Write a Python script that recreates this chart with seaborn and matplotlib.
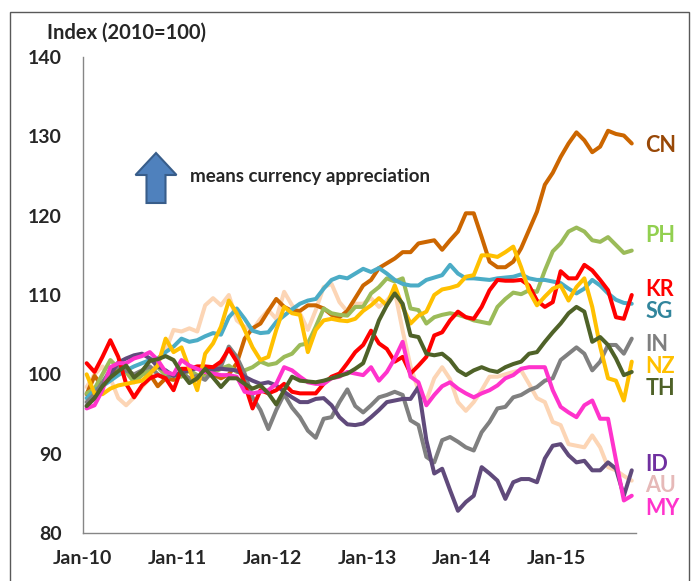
import numpy as np
import pandas as pd
import matplotlib
matplotlib.use("Agg")
import matplotlib.pyplot as plt
import seaborn as sns
from matplotlib.patches import Rectangle, FancyArrow

# monthly index values, Jan-10 .. Oct-15 (70 months)
CN = [97.5, 99.8, 98.5, 100.0, 101.2, 100.5, 99.5, 100.2, 100.0, 98.5,
      99.5, 99.3, 100.2, 100.5, 99.3, 99.8, 100.0, 99.5, 100.0, 101.4,
      104.5, 105.8, 106.4, 108.0, 109.5, 108.5, 108.0, 108.0, 108.7, 108.7,
      108.3, 107.5, 107.2, 108.0, 109.6, 111.2, 111.9, 113.4, 114.0, 114.6,
      115.4, 115.4, 116.5, 116.7, 116.9, 115.7, 116.9, 118.0, 120.3, 120.3,
      117.3, 114.2, 113.5, 113.5, 114.2, 115.9, 118.2, 120.5, 123.9, 125.4,
      127.4, 129.1, 130.5, 129.5, 128.0, 128.7, 130.7, 130.3, 130.1, 129.1]
PH = [97.6, 98.2, 100.0, 101.8, 100.8, 100.3, 99.0, 99.9, 100.5, 100.9,
      99.9, 99.8, 99.7, 100.5, 99.9, 99.7, 100.2, 100.7, 101.1, 100.3,
      100.5, 100.9, 101.6, 101.2, 101.4, 102.2, 102.6, 103.7, 103.9, 106.0,
      108.3, 107.7, 107.5, 107.4, 108.5, 108.5, 110.2, 111.0, 112.1, 111.7,
      112.1, 108.3, 108.1, 106.4, 107.2, 107.5, 107.7, 107.5, 107.2, 106.8,
      106.6, 106.4, 108.5, 109.5, 110.3, 110.1, 110.6, 110.4, 113.1, 115.5,
      116.5, 118.0, 118.5, 118.0, 116.9, 116.7, 117.3, 116.3, 115.3, 115.6]
KR = [101.4, 100.3, 102.2, 104.3, 102.2, 98.8, 97.1, 98.6, 99.5, 99.9,
      99.5, 98.0, 100.7, 100.7, 101.0, 101.0, 100.9, 101.6, 103.2, 101.6,
      98.8, 95.7, 98.0, 97.6, 98.0, 98.8, 97.8, 97.6, 97.6, 97.6,
      98.8, 99.7, 100.1, 101.4, 102.8, 103.7, 105.5, 103.9, 103.2, 101.6,
      102.2, 100.1, 101.1, 102.2, 104.9, 105.3, 106.8, 107.9, 107.2, 107.0,
      108.5, 110.6, 111.9, 111.8, 111.8, 111.9, 111.2, 109.3, 108.5, 109.1,
      113.0, 112.1, 112.1, 113.8, 113.1, 111.9, 110.6, 107.2, 107.0, 110.0]
SG = [97.0, 98.0, 98.5, 99.2, 99.9, 100.5, 101.0, 101.4, 101.8, 102.0,
      102.8, 103.5, 104.5, 104.1, 104.3, 104.8, 105.2, 105.0, 107.2, 108.3,
      107.0, 105.5, 105.2, 105.3, 106.6, 107.4, 108.2, 108.9, 109.3, 109.5,
      110.8, 111.9, 112.3, 112.1, 112.7, 113.3, 112.9, 113.4, 112.7, 111.9,
      111.4, 111.2, 111.2, 111.9, 112.2, 112.5, 113.8, 112.7, 112.1, 112.1,
      112.0, 111.9, 112.1, 112.2, 112.3, 112.6, 112.1, 111.9, 111.9, 111.7,
      111.5, 110.8, 110.2, 110.8, 111.9, 111.2, 110.2, 109.4, 109.0, 108.9]
IN = [96.5, 97.5, 99.0, 100.5, 101.0, 100.5, 100.0, 100.5, 101.0, 100.0,
      99.5, 100.0, 100.2, 99.5, 99.8, 99.3, 100.5, 101.0, 103.5, 102.2,
      100.1, 97.1, 95.5, 93.1, 95.5, 97.5, 95.8, 94.6, 92.9, 92.0,
      94.4, 94.6, 96.5, 98.1, 96.0, 95.2, 96.1, 97.1, 97.4, 97.8,
      97.4, 94.2, 93.6, 89.6, 88.9, 91.7, 92.1, 91.5, 90.8, 90.4,
      92.7, 94.0, 95.7, 95.9, 97.1, 97.4, 98.0, 98.4, 99.2, 99.5,
      101.8, 102.6, 103.4, 102.6, 100.5, 101.6, 103.7, 103.7, 102.6, 104.5]
NZ = [100.0, 97.6, 97.5, 98.2, 98.6, 98.8, 99.0, 99.2, 100.1, 101.1,
      104.5, 102.8, 103.4, 100.7, 98.0, 102.6, 103.9, 106.0, 109.3, 107.7,
      105.6, 103.4, 101.8, 102.2, 105.6, 108.5, 107.7, 107.5, 102.8, 105.6,
      106.8, 107.0, 106.8, 106.7, 107.0, 108.0, 108.7, 109.6, 108.7, 111.2,
      108.5, 106.4, 107.4, 107.9, 110.0, 110.7, 110.9, 111.2, 112.3, 112.5,
      115.0, 115.0, 114.8, 115.4, 116.1, 113.5, 110.5, 108.7, 109.8, 110.8,
      111.2, 109.3, 111.0, 112.1, 108.5, 103.5, 99.5, 99.2, 96.7, 101.6]
TH = [96.0, 97.0, 98.5, 99.6, 100.4, 101.1, 99.6, 100.4, 101.7, 101.9,
      102.3, 101.8, 100.2, 98.9, 99.5, 100.7, 99.6, 98.4, 99.5, 99.5,
      98.8, 98.2, 98.6, 97.6, 96.2, 98.0, 99.7, 99.2, 99.1, 99.0,
      99.2, 99.5, 99.8, 100.1, 100.7, 101.4, 104.0, 106.8, 108.7, 110.2,
      108.9, 104.9, 104.7, 102.6, 102.4, 102.6, 101.8, 100.5, 99.9, 100.5,
      100.9, 100.5, 100.3, 100.9, 101.3, 101.6, 102.6, 102.8, 104.1, 105.3,
      106.4, 107.7, 108.5, 107.9, 104.1, 104.7, 103.7, 102.0, 99.9, 100.3]
ID = [96.0, 97.0, 98.5, 100.0, 101.5, 102.0, 102.4, 102.6, 102.0, 101.0,
      100.5, 99.8, 100.2, 100.5, 100.8, 100.8, 100.6, 100.7, 100.6, 100.5,
      99.7, 99.2, 98.8, 99.0, 98.6, 97.8, 97.1, 96.5, 96.5, 96.9,
      97.0, 96.1, 94.6, 93.7, 93.6, 93.8, 94.6, 95.5, 96.5, 96.7,
      96.9, 96.9, 98.4, 91.7, 87.5, 88.1, 85.4, 82.8, 83.9, 84.7,
      88.3, 87.5, 86.6, 84.3, 86.4, 86.8, 86.8, 86.4, 89.4, 91.0,
      91.2, 89.8, 88.9, 89.1, 87.9, 87.9, 88.9, 88.1, 84.7, 87.9]
AU = [98.4, 100.0, 101.0, 99.5, 97.0, 96.1, 97.1, 98.4, 99.5, 101.8,
      103.0, 105.6, 105.4, 105.8, 105.4, 108.7, 109.6, 108.7, 110.0, 106.8,
      106.0, 105.6, 107.0, 108.1, 107.0, 110.4, 108.7, 107.7, 105.6, 108.1,
      111.0, 111.4, 109.1, 107.9, 108.9, 108.9, 109.6, 108.5, 109.3, 110.5,
      105.5, 101.0, 98.0, 96.7, 99.5, 100.9, 99.4, 96.5, 95.4, 96.5,
      98.0, 99.7, 99.7, 100.0, 100.3, 100.5, 98.8, 97.0, 96.5, 94.0,
      93.6, 91.2, 91.0, 90.8, 92.3, 90.8, 88.3, 87.9, 87.2, 86.6]
MY = [95.7, 96.1, 98.0, 100.9, 101.4, 101.4, 102.0, 102.3, 102.8, 101.8,
      100.3, 100.0, 101.8, 101.1, 100.7, 100.3, 100.1, 99.9, 99.9, 99.7,
      97.8, 97.6, 97.8, 98.0, 98.8, 100.9, 100.5, 99.7, 99.0, 98.8,
      98.8, 99.5, 99.7, 100.3, 100.1, 99.9, 100.9, 99.2, 100.3, 102.0,
      104.1, 99.7, 99.0, 96.1, 97.4, 98.5, 99.0, 98.2, 97.6, 97.1,
      97.6, 98.0, 98.6, 99.5, 99.9, 100.7, 100.9, 100.9, 100.9, 98.0,
      95.9, 95.2, 94.6, 96.1, 96.7, 94.4, 94.4, 89.2, 84.1, 84.7]

series = {"AU": AU, "CN": CN, "PH": PH, "SG": SG, "IN": IN, "ID": ID,
          "KR": KR, "NZ": NZ, "MY": MY, "TH": TH}
line_colors = {"CN": "#CC6600", "PH": "#9BBB59", "KR": "#FF0000", "SG": "#4BACC6",
               "IN": "#808080", "NZ": "#FFC000", "TH": "#4F6228", "ID": "#604A7B",
               "AU": "#FCD5B5", "MY": "#FF33CC"}

# right-hand labels: (name, y value where label sits, colour)
label_names = ["CN", "PH", "KR", "SG", "IN", "NZ", "TH", "ID", "AU", "MY"]
label_y = [128.8, 117.5, 110.7, 107.9, 103.8, 101.0, 98.2, 88.6, 86.0, 83.1]
label_colors = ["#984807", "#92D050", "#FF0000", "#31859C", "#7F7F7F",
                "#FFC000", "#4F6228", "#7030A0", "#E6B9B8", "#FF33CC"]

tick_labels = ["Jan-10", "Jan-11", "Jan-12", "Jan-13", "Jan-14", "Jan-15"]
y_ticks = [80, 90, 100, 110, 120, 130, 140]

n = len(CN)
df = pd.DataFrame(series)
df["month"] = np.arange(n) + 0.5  # plotted mid-month
long = df.melt(id_vars="month", var_name="country", value_name="index")

sns.set_style("white")
plt.rcParams["font.family"] = ["Lato", "DejaVu Sans"]
plt.rcParams["font.weight"] = "bold"

W, H = 692, 581
fig = plt.figure(figsize=(W / 100, H / 100), dpi=100)
ax = fig.add_axes([82.7 / W, 1 - 533 / H, (635.7 - 82.7) / W, (533 - 57) / H])

sns.lineplot(data=long, x="month", y="index", hue="country",
             hue_order=list(series.keys()), palette=line_colors,
             linewidth=2.9, legend=False, ax=ax, solid_joinstyle="round")

ax.set_xlim(0, 70)
ax.set_ylim(80, 140)
ax.set_xticks(np.arange(len(tick_labels)) * 12)
ax.set_xticklabels(tick_labels)
ax.set_yticks(y_ticks)
ax.set_xlabel("")
ax.set_ylabel("")
for s in ["top", "right"]:
    ax.spines[s].set_visible(False)
for s in ["left", "bottom"]:
    ax.spines[s].set_color("#868686")
    ax.spines[s].set_linewidth(1)
ax.tick_params(axis="y", direction="out", length=4, color="#868686", pad=11,
               labelsize=14)
ax.tick_params(axis="x", direction="inout", length=8, color="#868686", pad=8,
               labelsize=14)
for t in ax.get_xticklabels() + ax.get_yticklabels():
    t.set_fontweight("bold")

for name, yv, c in zip(label_names, label_y, label_colors):
    ax.text(71.2, yv, name, color=c, fontsize=15.5, fontweight="bold",
            va="center", ha="left", clip_on=False)

def fx(px):
    return px / W

def fy(py):
    return 1 - py / H

fig.text(fx(47), fy(33), "Index (2010=100)", fontsize=14.5, fontweight="bold",
         va="center", ha="left")
fig.text(fx(190), fy(177), "means currency appreciation", fontsize=13.5,
         fontweight="bold", va="center", ha="left")

arrow = FancyArrow(fx(156), fy(203), 0, fy(153) - fy(203), width=19 / W,
                   head_width=41 / W, head_length=22 / H,
                   length_includes_head=True, transform=fig.transFigure,
                   facecolor="#4F81BD", edgecolor="#385D8A", linewidth=1.5)
fig.add_artist(arrow)

frame = Rectangle((fx(10), -0.05), (689 - 10) / W, fy(12) + 0.05,
                  transform=fig.transFigure, fill=False, edgecolor="#595959",
                  linewidth=1)
fig.add_artist(frame)

fig.savefig("out.png", dpi=100)
